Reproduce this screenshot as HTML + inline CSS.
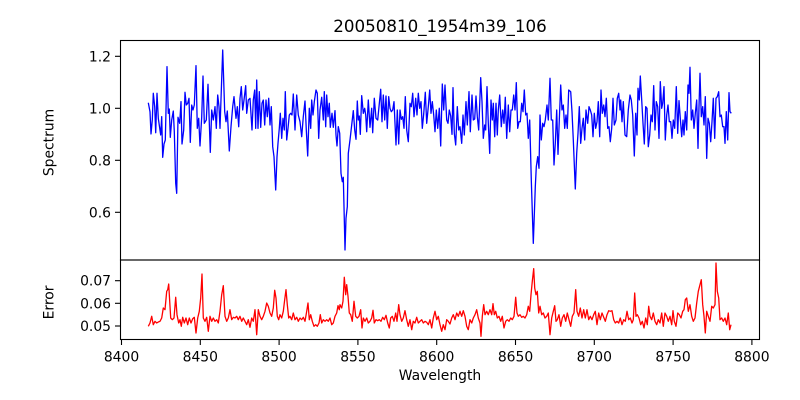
<!DOCTYPE html>
<html><head><meta charset="utf-8"><style>
html,body{margin:0;padding:0;background:#fff;}
svg{display:block;}
text{font-family:"DejaVu Sans","Liberation Sans",sans-serif;fill:#000;}
</style></head><body>
<svg width="800" height="400" viewBox="0 0 800 400" xmlns="http://www.w3.org/2000/svg">
<rect width="800" height="400" fill="#fff"/>
<text x="440" y="32" font-size="16.7" text-anchor="middle">20050810_1954m39_106</text>

<polyline fill="none" stroke="#0000ff" stroke-width="1.3" stroke-linejoin="round" points="
148.3,102.7 150,111.7 151,134 152.3,120 153.3,93.3 154.7,106.7 155.7,132.7 157,93.3 158.3,118.3 160.7,135 161.7,116.7 162.7,157.3 164,144 165.3,140 167,66.7 168.3,113.3 169.3,109 170.3,137.3 171.7,120 173.3,111 174.3,131.7 175.7,183.3 176.7,193.3 178,117.3 179.7,123.3 181,101.7 182,144 183.7,130 185,92.3 186.3,105 187.7,103.3 189,98.3 190.3,142.3 191.7,105 193,110 194.3,105 196,65.7 197.3,128.3 198.7,118.3 200,146 201.7,117.3 203,76 204.3,123.3 206.3,120 208,84.3 210.3,152.3 211.7,110 213.3,120 215,106.7 216.3,128.3 217.7,95 219,106.7 220,128.3 222.7,50 224.7,111.7 226,121.7 227.3,111 229.3,151 231,126.7 232.7,106.7 234,96.7 236,118.3 237.3,106.7 238.7,126.7 240,98.3 241.3,86.7 242.7,110 244,100 245.7,85.7 246.7,113.3 248.3,100 250,98.3 252,130 253.3,100 254.7,90 255.7,128.3 256.7,80 258,128.3 259.3,91.7 260.7,127.3 262,103.3 263.3,100 264.7,125 266,100 267.3,116.7 268.7,98.3 270,125 271.3,106.7 272.7,146.7 274,156.7 275.7,190 277,156.7 278,143.3 279.3,128.3 280.3,113.3 281.7,138.3 283,118.3 284.3,130 285.3,91.7 286.7,140 288,128.3 289.3,115 290.7,113.3 292,115 293.3,94 295,130 296.7,95 298.3,115 300,121.7 301.7,136.7 303.3,116.7 305,101 306.3,130 307.7,156 309.3,108.3 310.7,128.3 311.7,100 313,115 314.3,101.7 316,90 317.3,93.3 318.7,138.3 320,110 321.7,97.3 323.3,120 324.3,91.7 325.7,126.7 326.7,95 328,116.7 329.3,103.3 330.3,127.3 332,113.3 333.3,127.3 335,110.7 336,135 337,146 338.3,126.7 339.7,133.3 341,173.3 342.3,181.7 343.3,177.3 344,206.7 345,250 346,218.3 347.3,206.7 348.3,153.3 350,140 351.7,125 353.3,110.7 354.7,130 356,139.3 357.3,101 358.3,120 359.3,116 360.3,134.3 361.7,95.7 363.3,113.3 364.7,108.3 365.7,115 366.7,131.7 368.3,100 370,127.3 371.7,108.3 372.7,132.7 374.3,98.3 376,118.3 377.7,120 379,106.7 380.7,89.3 382,121.7 383.3,95 384.7,120 386,96 387.3,128.3 388.7,96.7 390,108.3 391.3,111.7 392.7,110 394,101.7 396,145 397.3,110 398.7,144 400,110 401.3,119.3 402.7,116.7 404,128.3 405.3,96.7 406.7,130 408.3,141.7 410,103.3 411.3,106.7 412.7,93.3 414,116.7 415.7,98.3 417,115 418.3,93.3 419.7,108.3 421,101.7 422.3,128.3 423.7,114 425.3,92.3 426.7,123.3 428.3,106.7 429.7,90 431,113.3 432.3,101.7 433.7,115 435,131.7 436.3,110 437.7,128.3 439.3,108.3 440.7,146 442.3,84 443.7,110 445,85 446.7,120 448,123.3 449.3,110 450.7,116 452,134.3 453,87.7 454.3,133.3 455.7,145 457.3,106.7 458.7,130 460,126.7 461.7,143.3 463,115 464.3,135 466,101.7 467.3,125 469,91.7 470.3,131.7 472,95 473.3,120 474.7,119 476,96 477.3,116.7 478.7,130 480.7,77.7 482,101.7 483.3,138.3 484.7,125 485.7,130 487,86.7 488.3,123.3 489.7,153.3 491,100 492.3,120 493.3,103.3 494.7,136.7 496,103.3 497.3,135 498.3,110 499.7,95 501.3,126.7 502.7,110 504,123.3 505.3,97.3 506.7,138.3 508.3,105 509.7,131.7 511,110 512.3,110 513.7,95 515,110 516.3,82.7 517.7,128.3 519,121.7 520.3,121.7 521.7,103.3 523,111.7 524.3,90 525.7,115 527,113.3 528.3,138.3 529.7,120 531.3,180 533.3,243.3 535.3,186.7 536.3,166.7 537.7,156.7 539,168.3 540,115 541.3,140 542.7,123.3 544,126.7 545.3,120 547,105 548.3,120 550,78.3 551.3,120 552.7,120 554,165 555.3,143.3 556.7,110 558,154.3 559.3,120 560.7,85 562,110 563.3,105 564.7,128.3 566,115 567.3,128.3 568.7,90 570.7,91.7 572,111.7 573.3,140 575.3,189 576.7,153.3 578,133.3 579.3,106.7 580.7,143.3 582,128.3 583.3,118.3 584.7,140 586,110 587.7,123.3 589,106.7 590.3,110 591.7,115 593,136.7 594.3,113.3 595.7,128.3 597,121.7 598.3,101.7 599.7,136.7 601,90 602.3,113.3 603.7,105 605,116.7 606.3,98.3 607.7,128.3 609,126.7 610.3,141.7 611.7,128.3 613,98.3 614.3,125 616,120 617.3,98.3 618.7,93.3 620,110 620.7,100 622,121.7 623.3,101.7 625,135 626.7,136.7 628.3,110 630,95 631.3,100 632.7,115 634.3,156 635.7,113.3 637,135 638,88.3 639.3,100 640.3,76 641.7,100 643,123.3 644.3,144 645.7,106.7 647,108.3 648.3,146.7 649.7,135 651,115 652.3,121.7 653.7,85.7 655,130 656.3,101.7 657.7,106.7 659,138.3 660.3,81.7 661.7,108.3 662.7,103.3 664,86.7 665.3,140 666.7,115 668,105 669.3,121.7 670.7,121.7 672,138.3 673.3,120 674.7,128.3 676.3,86.7 677.7,133.3 679,100.7 680.3,118.3 681.7,136.7 683,120 684,135 685.3,111.7 686.7,130 688,85 689,93.3 690,67.3 691.3,120 692.7,110 694,128.3 695.3,113.3 696.7,100 698,148.3 699,106.7 700,73.3 701.3,116.7 702.7,106.7 704,125 705.3,96.7 706.7,158.3 708,118.3 709.3,123.3 710.7,141.7 712,121.7 713.3,98.3 714.7,138.3 716,98.3 717.3,96.7 718.7,91.7 720,116.7 721.3,115 722.7,126.7 724,126.7 725,143.3 726.3,111.7 727.7,140 729,92.7 730,111.7 731.3,113.3"/>

<polyline fill="none" stroke="#ff0000" stroke-width="1.3" stroke-linejoin="round" points="
148.3,326.3 150,323 151.7,316.3 153.3,324.7 155,321.3 156.7,323 158.3,322 160,321.3 161.7,318 163.3,308 165,309.7 166.7,291.3 167.7,289.7 168.7,284 169.7,301.3 170.7,318 172.3,319.7 174,318 175.7,297.3 177,314.7 178.7,323 180,319.7 181.3,326.3 182.7,317.3 184.3,323 186,318 187.7,324.7 189.3,318 191,323 192.7,318.7 194.3,317.3 196,333 197.7,318 199.3,311.3 200.7,298 202,274 203.3,318 205,321.3 206.7,317.3 208.3,331.3 210,316.3 211.7,321.3 213.3,318 215,321.3 216.7,319.7 218.3,323 220,311.3 221.7,294.7 223.3,285.7 225,316.3 226.7,321.3 228.3,318 230,309.7 231.7,319.7 233.3,317.3 235,318 236.7,316.3 238.3,319.7 240,316.3 241.7,321.3 243.3,318 245,321.3 246.7,324.7 248.3,319.7 250,327.3 251.7,318 253.3,321.3 255,309.7 256.7,334.7 258.3,309.7 260,316.3 261.7,319.7 263.3,316.3 265,311.3 266.7,303 268.3,306.3 270,313 271.7,316.3 273.3,308 274.7,290.3 276,298 277.3,316.3 278.7,319.7 280,314.7 281.7,318 283.3,311.3 284.7,299.7 286,289.7 287.3,304.7 288.7,318 290,316.3 291.7,319.7 293.3,313 295,319.7 296.7,317.3 298.3,321.3 300,318 301.7,319.7 303.3,317.3 305,321.3 306.7,311.3 308,303 309.3,319.7 310.7,314.7 312.3,321.3 314,326.3 315.7,324.7 317.3,326.3 319,323 320.3,314.7 321.7,323 323.3,319.7 325,321.3 326.7,319.7 328.3,321.3 330,318 331.7,324.7 333.3,323 335,316.3 336.7,313 338,305.7 339.3,309.7 340,304.7 341.7,308 343,301.3 344.3,277.3 345.7,294.7 346.7,284.7 348,296.3 349.3,313 350.7,314.7 352.3,321.3 354,301.3 355.7,316.3 357.3,318 359,316.3 360.7,309.7 362,328 363.3,318 365,321.3 366.7,318 368.3,323 370,321.3 371.7,318 373,310.3 374.3,323 376,319.7 377.7,320.7 379.3,319.7 381,321.3 382.7,317.3 384.3,319.7 386,315.3 387.7,323 389.3,328 390.7,318 392.3,316.3 394,321.3 395.7,313 397,321.3 398.7,304.7 400,314.7 401.7,321.3 403.3,318 405,310.7 406.7,319.7 408.3,326.3 410,319.7 411.7,329.7 413.3,321.3 415,323 416.7,317.3 418.3,323 420,321.3 421.7,319.7 423.3,323 425,321.3 426.7,322.3 428.3,324.7 430,319.7 431.7,328 433.3,318 435,311.3 436.7,319.7 438.3,316.3 440,324.7 441.7,331.3 443.3,324.7 445,329.7 446.7,319.7 448.3,321.3 450,324 451.7,318 453.3,314.7 455,319.7 456.7,313 458.3,316.3 460,311.3 461.7,316.3 463.3,310.7 465,316.3 466.7,326.3 468.3,329.7 470,319.7 471.7,323 473.3,318 475,314.7 476.7,309.7 478.3,318 480,323 481,336.3 482.3,316.3 483.7,304.7 485,314.7 486.7,311.3 488.3,314.7 490,309.7 491.7,314.7 493,303.7 494.3,314.7 495.7,311.3 497.3,318 499,316.3 500.7,321.3 502.3,316.3 504,328 505.7,321.3 507.3,319.7 509,321.3 510.7,318 512.3,319.7 514,316.3 515.7,297.3 517,313 518.3,316.3 520,314.7 521.7,317.3 523.3,316.3 525,318 526.7,314.7 528.3,306.3 529.7,311.3 531,294.7 532.3,281.3 533.7,268.7 534.7,288 536,294.7 537.3,291.3 538.7,313 540,306.3 541.7,314.7 543.3,313 545,318 546.7,316.3 548.3,313 550,334.7 551.7,318 553.3,311.3 554.7,305.7 556,321.3 557.3,319.7 559,314.7 560.7,326.3 562.3,318 564,314.7 565.7,321.3 567.3,313 569,319.7 570.7,326.3 572.3,316.3 574,313 575.7,289.7 577,311.3 578.7,316.3 580.3,308 582,318 583.7,309.7 585.3,318 587,309.7 588.7,319.7 590.3,316.3 592,319.7 593.7,314.7 595.3,311.3 597,324.7 598.7,313 600.3,319.7 602,313 603.7,317.3 605.3,321.3 607,314.7 608.7,310.7 610.3,311.3 612,310.7 613.7,319.7 615.3,323 617,321.3 618.7,323 620.3,318 622,324.7 623.7,319.7 625.3,321.3 627,311.3 628.7,319.7 630.3,318 632,323 633.3,319.7 634.7,293 636,316.3 637.3,314.7 639,318 640.7,324.7 642.3,321.3 644,328 645.7,318 647.3,324.7 648.7,306.3 650,316.3 651.7,319.7 653.3,313 655,321.3 656.7,324.7 658.3,319.7 660,323 661.7,313 663.3,326.3 665,313 666.7,316.3 668.3,321.3 670,316.3 671.7,324.7 673,310.7 674.3,321.3 676,326.3 677.7,313 679.3,314.7 681,318 682.7,311.3 684,309.7 685.3,299.7 686.7,298 688.3,311.3 690,304.7 691.7,316.3 693.3,321.3 695,318 696.7,303 698.3,291.3 700,284.7 701.3,279.7 702.7,304.7 704,316.3 705.3,333 706.7,311.3 708.3,316.3 710,321.3 711.7,306.3 713.3,308 715,304.7 716,263 717.3,291.3 718.7,298 720,319.7 721.7,318 723.3,321.3 725,318 726.7,324.7 728.3,313 729.7,329.7 731,324.7"/>

<!-- axes frames -->
<rect x="120.5" y="40.5" width="639" height="219.5" fill="none" stroke="#000" stroke-width="1.1"/>
<rect x="120.5" y="260" width="639" height="79.5" fill="none" stroke="#000" stroke-width="1.1"/>

<!-- top y ticks -->
<g stroke="#000" stroke-width="1.1">
<line x1="115" y1="56.3" x2="120" y2="56.3"/>
<line x1="115" y1="108.3" x2="120" y2="108.3"/>
<line x1="115" y1="160.3" x2="120" y2="160.3"/>
<line x1="115" y1="212.3" x2="120" y2="212.3"/>
<line x1="115" y1="280.7" x2="120" y2="280.7"/>
<line x1="115" y1="303.3" x2="120" y2="303.3"/>
<line x1="115" y1="326" x2="120" y2="326"/>
<line x1="121.5" y1="340" x2="121.5" y2="345"/>
<line x1="200.3" y1="340" x2="200.3" y2="345"/>
<line x1="279.1" y1="340" x2="279.1" y2="345"/>
<line x1="357.9" y1="340" x2="357.9" y2="345"/>
<line x1="436.7" y1="340" x2="436.7" y2="345"/>
<line x1="515.5" y1="340" x2="515.5" y2="345"/>
<line x1="594.3" y1="340" x2="594.3" y2="345"/>
<line x1="673.1" y1="340" x2="673.1" y2="345"/>
<line x1="751.9" y1="340" x2="751.9" y2="345"/>
</g>
<g font-size="13.9" text-anchor="end">
<text x="111" y="61.3">1.2</text>
<text x="111" y="113.3">1.0</text>
<text x="111" y="165.3">0.8</text>
<text x="111" y="217.3">0.6</text>
<text x="111" y="285.7">0.07</text>
<text x="111" y="308.3">0.06</text>
<text x="111" y="331">0.05</text>
</g>
<g font-size="13.9" text-anchor="middle">
<text x="121.5" y="361.5">8400</text>
<text x="200.3" y="361.5">8450</text>
<text x="279.1" y="361.5">8500</text>
<text x="357.9" y="361.5">8550</text>
<text x="436.7" y="361.5">8600</text>
<text x="515.5" y="361.5">8650</text>
<text x="594.3" y="361.5">8700</text>
<text x="673.1" y="361.5">8750</text>
<text x="751.9" y="361.5">8800</text>
</g>
<text x="440" y="380" font-size="13.9" text-anchor="middle">Wavelength</text>
<text transform="translate(53.5,142.5) rotate(-90)" font-size="13.9" text-anchor="middle">Spectrum</text>
<text transform="translate(53.5,302.5) rotate(-90)" font-size="13.9" text-anchor="middle">Error</text>
</svg>
</body></html>
